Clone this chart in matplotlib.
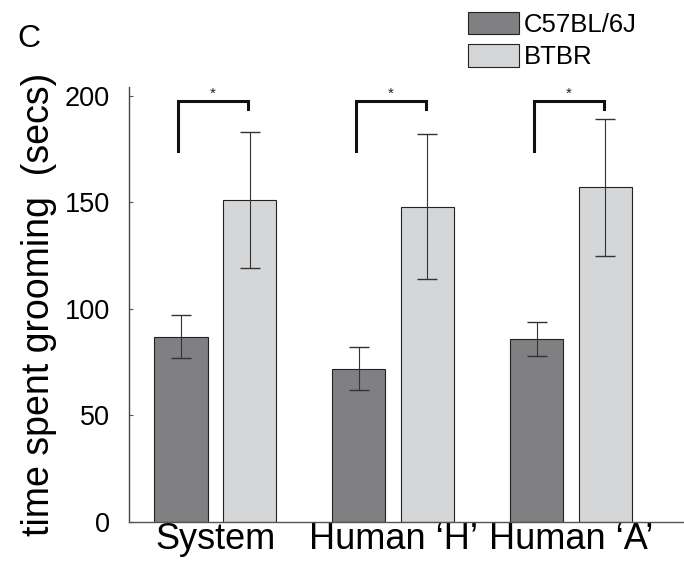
import numpy as np
import matplotlib.pyplot as plt

plt.rcParams['font.family'] = ['Liberation Sans', 'DejaVu Sans']

groups = ['System', 'Human \u2018H\u2019', 'Human \u2018A\u2019']
b6_mean = [87, 72, 86]
b6_err = [10, 10, 8]
btbr_mean = [151, 148, 157]
btbr_err = [32, 34, 32]

# bracket heights (top, left leg bottom, right leg bottom)
br_top = 197.5
br_left = 174
br_right = 194

fig = plt.figure(figsize=(6.84, 5.61), dpi=100)
ax = fig.add_axes([0.189, 0.0695, 0.811, 0.775])

x = np.arange(len(groups))
off = 0.193
w = 0.30
ax.bar(x - off, b6_mean, w, color='#808083', edgecolor='#222222', linewidth=0.8,
       label='C57BL/6J', zorder=2)
ax.bar(x + off, btbr_mean, w, color='#d5d6d8', edgecolor='#222222', linewidth=0.8,
       label='BTBR', zorder=2)
ax.errorbar(x - off, b6_mean, yerr=b6_err, fmt='none', ecolor='#333333',
            elinewidth=0.8, capsize=7, capthick=1.0, zorder=3)
ax.errorbar(x + off, btbr_mean, yerr=btbr_err, fmt='none', ecolor='#333333',
            elinewidth=0.8, capsize=7, capthick=1.0, zorder=3)

for xi in x:
    xl = xi - off - 0.015
    xr = xi + off - 0.01
    ax.plot([xl, xl, xr, xr], [br_left, br_top, br_top, br_right],
            color='#111111', lw=2.2, solid_joinstyle='miter', zorder=4)
    ax.text((xl + xr) / 2, br_top + 0.3, '*', ha='center', va='bottom',
            fontsize=11, color='#222222')

ax.set_xlim(-0.483, 2.635)
ax.set_ylim(0, 204)
ax.set_yticks([0, 50, 100, 150, 200])
ax.tick_params(axis='y', direction='in', length=3, labelsize=19.5, pad=14,
               color='#555555')
ax.set_xticks(x)
ax.set_xticklabels(groups, fontsize=26)
ax.tick_params(axis='x', length=0, pad=0)
for s in ['top', 'right']:
    ax.spines[s].set_visible(False)
ax.spines['left'].set_color('#444444')
ax.spines['bottom'].set_color('#555555')
ax.spines['left'].set_linewidth(1.0)
ax.spines['bottom'].set_linewidth(1.0)
ax.set_ylabel('time spent grooming  (secs)', fontsize=27)
ax.yaxis.set_label_coords(-0.13, 0.5)

leg = fig.legend(loc='upper left', bbox_to_anchor=(0.684, 0.979), frameon=False,
                 prop={'family': ['Liberation Sans Narrow', 'Liberation Sans'], 'size': 18.5},
                 handlelength=1.98, handleheight=0.97,
                 handletextpad=0.2, labelspacing=0.28, borderaxespad=0,
                 borderpad=0)

fig.text(0.026, 0.930, 'C', fontsize=23, ha='left', va='center')

fig.savefig('out.png', dpi=100)
